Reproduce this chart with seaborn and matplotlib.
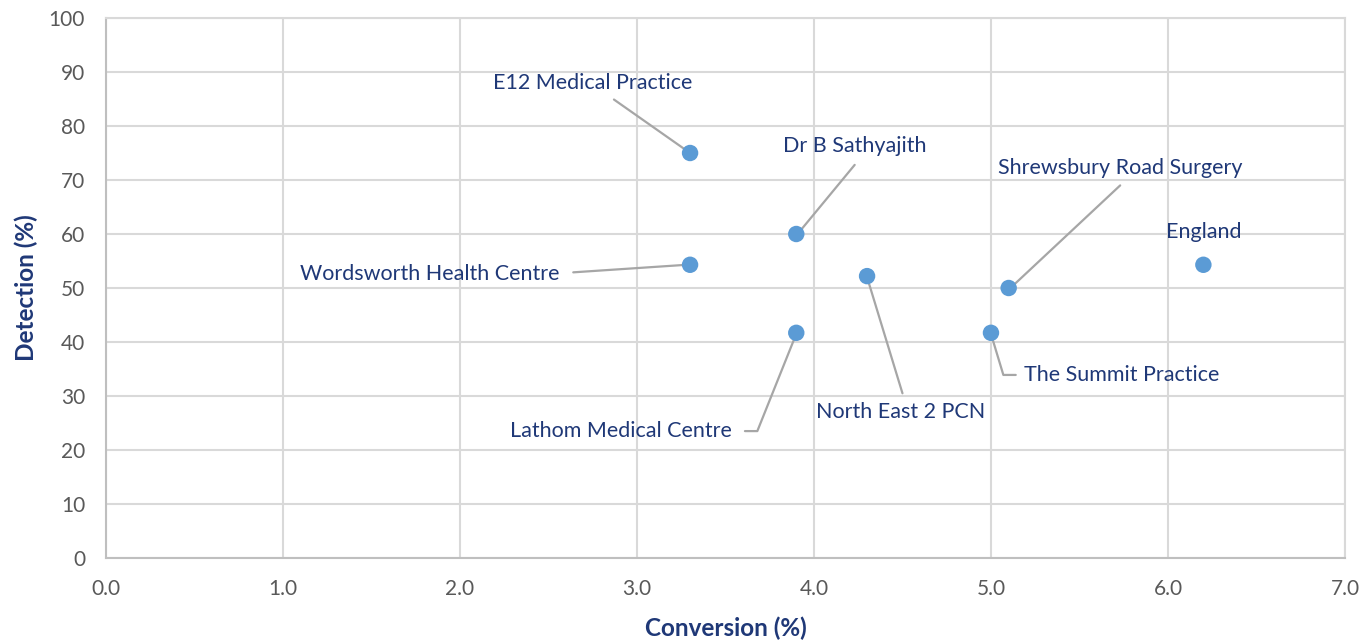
import matplotlib
matplotlib.use("Agg")
import matplotlib.pyplot as plt
import seaborn as sns
import pandas as pd

names = ["E12 Medical Practice", "Dr B Sathyajith", "Wordsworth Health Centre",
         "North East 2 PCN", "Shrewsbury Road Surgery", "England",
         "Lathom Medical Centre", "The Summit Practice"]
conversion = [3.3, 3.9, 3.3, 4.3, 5.1, 6.2, 3.9, 5.0]
detection = [75.0, 60.0, 54.3, 52.2, 50.0, 54.3, 41.7, 41.7]
x_ticks = [0.0, 1.0, 2.0, 3.0, 4.0, 5.0, 6.0, 7.0]
y_ticks = [0, 10, 20, 30, 40, 50, 60, 70, 80, 90, 100]

# label anchor positions (data coords)
label_pos = {
    "E12 Medical Practice": (2.75, 88.0),
    "Dr B Sathyajith": (4.23, 76.3),
    "Wordsworth Health Centre": (1.83, 52.6),
    "North East 2 PCN": (4.49, 27.0),
    "Shrewsbury Road Surgery": (5.73, 72.2),
    "England": (6.2, 60.4),
    "Lathom Medical Centre": (2.91, 23.5),
    "The Summit Practice": (5.74, 33.9),
}

df = pd.DataFrame({"name": names, "Conversion": conversion, "Detection": detection})

sns.set_style("white")
plt.rcParams['font.family'] = ['Lato', 'DejaVu Sans']

fig = plt.figure(figsize=(13.62, 6.43), dpi=100)
ax = fig.add_axes([0.0778, 0.1322, 0.9097, 0.8398])

navy = "#1F3877"
grid_c = "#D9D9D9"
line_c = "#A6A6A6"

sns.scatterplot(data=df, x="Conversion", y="Detection", ax=ax, s=140,
                color="#5B9BD5", edgecolor="none", zorder=5)

ax.set_xlim(0, 7)
ax.set_ylim(0, 100)
ax.set_xticks(x_ticks)
ax.set_xticklabels([f"{t:.1f}" for t in x_ticks])
ax.set_yticks(y_ticks)
ax.grid(True, color=grid_c, linewidth=1.5)
ax.set_axisbelow(True)
for s in ["top", "right"]:
    ax.spines[s].set_color(grid_c)
    ax.spines[s].set_linewidth(1.5)
for s in ["left", "bottom"]:
    ax.spines[s].set_color("#BFBFBF")
    ax.spines[s].set_linewidth(1.5)
ax.tick_params(axis="both", length=0, labelsize=15, colors="#595959")
ax.tick_params(axis="x", pad=15)
ax.tick_params(axis="y", pad=15)
ax.set_xlabel("Conversion (%)", fontsize=17.5, fontweight="bold", color=navy, labelpad=13)
ax.set_ylabel("Detection (%)", fontsize=17.5, fontweight="bold", color=navy, labelpad=8)

for n in names:
    lx, ly = label_pos[n]
    ax.text(lx, ly, n, ha="center", va="center", fontsize=15.5, color=navy, zorder=6)

def leader(pts):
    xs = [p[0] for p in pts]
    ys = [p[1] for p in pts]
    ax.plot(xs, ys, color=line_c, linewidth=1.6, zorder=4)

leader([(2.87, 84.9), (3.3, 75.0)])
leader([(4.23, 72.8), (3.92, 60.5)])
leader([(2.64, 52.9), (3.28, 54.3)])
leader([(4.50, 30.5), (4.3, 52.0)])
leader([(5.73, 69.0), (5.12, 50.3)])
leader([(3.61, 23.5), (3.68, 23.5), (3.9, 41.5)])
leader([(5.14, 33.9), (5.07, 33.9), (5.0, 41.5)])

fig.savefig("out.png", dpi=100, facecolor="white")
